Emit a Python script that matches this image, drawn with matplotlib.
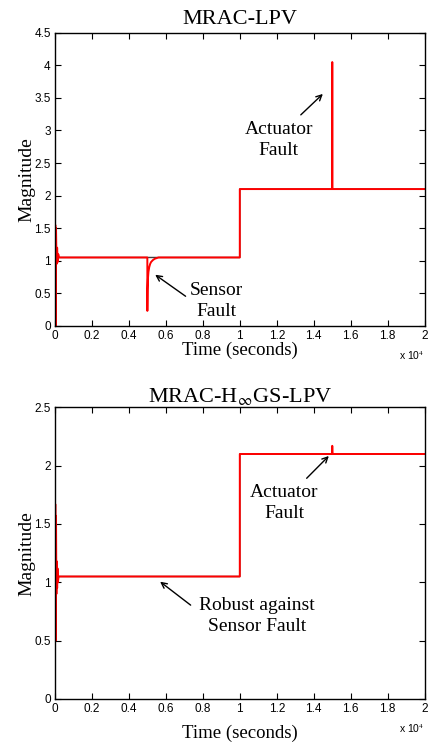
import matplotlib
matplotlib.use('Agg')
import matplotlib.pyplot as plt
from matplotlib.ticker import FuncFormatter, MultipleLocator

plt.rcParams['font.family'] = ['Liberation Serif', 'DejaVu Serif']
plt.rcParams['mathtext.fontset'] = 'stix'

# reference signal (step)
ref_time = [0, 1, 10000, 10000, 20000]
ref_value = [0, 1.05, 1.05, 2.1, 2.1]

# MRAC-LPV output
lpv_time = [0, 20, 40, 60, 90, 120, 150, 180, 220, 300, 4999, 5000, 5010, 5030, 5060,
            5100, 5150, 5200, 5300, 5400, 5500, 5600, 9999, 10000, 14995, 15000,
            15005, 15010, 20000]
lpv_value = [0, 1.55, 0.0, 1.5, 0.95, 1.2, 0.98, 1.1, 1.05, 1.05, 1.05, 0.23, 0.55, 0.72, 0.83,
             0.9, 0.95, 0.98, 1.01, 1.03, 1.04, 1.05, 1.05, 2.1, 2.1, 4.05,
             2.1, 2.1, 2.1]

# MRAC-Hinf GS-LPV output
hinf_time = [0, 20, 40, 60, 80, 100, 120, 140, 160, 200, 300, 9999, 10000, 14990, 15000,
             15010, 15020, 20000]
hinf_value = [0.4, 1.67, 0.5, 1.57, 0.9, 1.18, 0.95, 1.12, 1.0, 1.05, 1.05, 1.05, 2.1, 2.1, 2.17,
              2.12, 2.1, 2.1]

fig = plt.figure(figsize=(4.29, 7.44), dpi=100)
ax1 = fig.add_axes([0.128, 0.562, 0.862, 0.394])
ax2 = fig.add_axes([0.128, 0.0605, 0.862, 0.392])


def style(ax, ymax, ystep, labelpad_x):
    ax.set_xlim(0, 20000)
    ax.set_ylim(0, ymax)
    ax.xaxis.set_major_locator(MultipleLocator(2000))
    ax.yaxis.set_major_locator(MultipleLocator(ystep))
    ax.xaxis.set_major_formatter(FuncFormatter(lambda v, p: '%g' % round(v / 1e4, 2)))
    ax.yaxis.set_major_formatter(FuncFormatter(lambda v, p: '%g' % round(v, 2)))
    ax.tick_params(direction='in', top=True, right=True, length=4, width=0.8, pad=3)
    for lab in ax.get_xticklabels() + ax.get_yticklabels():
        lab.set_family('Liberation Sans')
        lab.set_fontsize(8.5)
    for s in ax.spines.values():
        s.set_linewidth(1.0)
    ax.set_xlabel('Time (seconds)', fontsize=13.5, labelpad=labelpad_x)
    ax.set_ylabel('Magnitude', fontsize=14, labelpad=-0.5)
    ax.text(0.965, -0.1, r'x 10$^4$', transform=ax.transAxes, ha='center', va='center',
            fontsize=7.5, family='Liberation Sans')


ax1.plot(ref_time, ref_value, color='#404040', lw=1.0)
ax1.plot(lpv_time, lpv_value, color='red', lw=1.4)
style(ax1, 4.5, 0.5, 0)
ax1.set_title('MRAC-LPV', fontsize=16, pad=6)
ax1.annotate('', xy=(14600, 3.59), xytext=(13190, 3.21),
             arrowprops=dict(arrowstyle='->', color='black', lw=1.0))
ax1.text(12100, 2.85, 'Actuator\nFault', ha='center', va='center', fontsize=14, linespacing=1.35)
ax1.annotate('', xy=(5300, 0.81), xytext=(7190, 0.43),
             arrowprops=dict(arrowstyle='->', color='black', lw=1.0))
ax1.text(8750, 0.38, 'Sensor\nFault', ha='center', va='center', fontsize=14, linespacing=1.35)

ax2.plot(ref_time, ref_value, color='#404040', lw=1.0)
ax2.plot(hinf_time, hinf_value, color='red', lw=1.4)
style(ax2, 2.5, 0.5, 7)
ax2.set_title(r'MRAC-H$_{\infty}$GS-LPV', fontsize=16, pad=4)
ax2.annotate('', xy=(14920, 2.10), xytext=(13510, 1.875),
             arrowprops=dict(arrowstyle='->', color='black', lw=1.0))
ax2.text(12400, 1.68, 'Actuator\nFault', ha='center', va='center', fontsize=14, linespacing=1.35)
ax2.annotate('', xy=(5570, 1.02), xytext=(7460, 0.79),
             arrowprops=dict(arrowstyle='->', color='black', lw=1.0))
ax2.text(10920, 0.71, 'Robust against\nSensor Fault', ha='center', va='center', fontsize=14,
         linespacing=1.35)

fig.savefig('out.png', dpi=100)
